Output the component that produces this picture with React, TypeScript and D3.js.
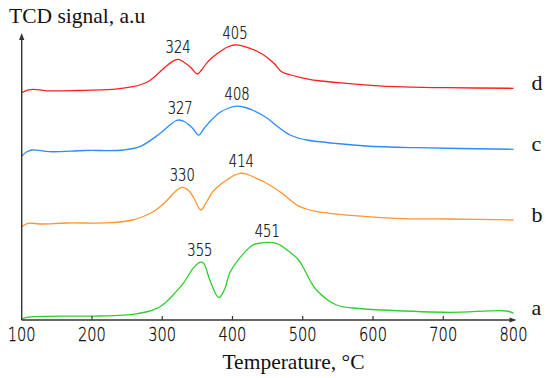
import React from "react";
import * as d3 from "d3";

// ---- data (temperature °C, TCD signal a.u.) ----
const curveD: [number, number][] = [
  [100, 22.73], [108, 22.98], [117, 23.07], [135, 22.92], [180, 22.95], [230, 23.07],
  [258, 23.33], [270, 23.55], [280, 23.85], [292, 24.5], [306, 25.4], [318, 25.98],
  [323, 26.07], [330, 25.83], [340, 25.3], [350, 24.6], [356, 25.0], [363, 25.67],
  [372, 26.3], [382, 26.83], [393, 27.3], [403, 27.5], [414, 27.42], [425, 27.17],
  [437, 26.8], [448, 26.33], [460, 25.6], [470, 24.83], [483, 24.5], [496, 24.27],
  [520, 23.95], [562, 23.67], [633, 23.33], [704, 23.23], [800, 23.17],
];
const curveC: [number, number][] = [
  [100, 16.4], [108, 16.85], [116, 17.0], [140, 16.83], [190, 16.95], [245, 17.0],
  [268, 17.33], [294, 18.5], [311, 19.5], [320, 19.95], [324, 20.0], [332, 19.83],
  [343, 19.2], [352, 18.5], [360, 19.2], [370, 20.0], [383, 20.8], [395, 21.2],
  [406, 21.38], [418, 21.25], [430, 20.95], [448, 20.25], [467, 19.2], [482, 18.5],
  [496, 18.15], [505, 18.0], [548, 17.65], [590, 17.4], [662, 17.23], [800, 17.07],
];
const curveB: [number, number][] = [
  [100, 9.33], [109, 9.67], [126, 9.6], [164, 9.7], [226, 9.73], [258, 10.0],
  [278, 10.5], [287, 10.83], [297, 11.33], [306, 11.9], [316, 12.67], [324, 13.15],
  [329, 13.27], [337, 13.0], [345, 12.2], [355, 11.0], [363, 11.8], [372, 12.83],
  [382, 13.5], [392, 14.0], [402, 14.45], [411, 14.67], [422, 14.55], [434, 14.17],
  [446, 13.78], [458, 13.27], [472, 12.6], [484, 11.9], [496, 11.33],
  [505, 11.1], [520, 10.83], [538, 10.67], [633, 10.17], [709, 10.1], [800, 10.0],
];
const curveA: [number, number][] = [
  [100, 0.07], [107, 0.27], [211, 0.4], [258, 0.57], [280, 0.85], [290, 1.1],
  [297, 1.33], [306, 1.83], [318, 2.7], [330, 3.67], [344, 5.17], [353.5, 5.77],
  [359, 5.67], [367.7, 4.0], [380.5, 2.23], [389, 3.1], [396, 4.7], [410, 6.17],
  [429, 7.5], [443.5, 7.73], [462.6, 7.67], [481.5, 6.8], [493, 6.1], [502, 5.1],
  [510, 4.0], [519.5, 3.0], [548, 1.5], [580, 1.15], [614, 1.0], [709, 0.77],
  [790, 0.9], [800, 0.67],
];

const peaksD = [324, 405];
const peaksC = [327, 408];
const peaksB = [330, 414];
const peaksA = [355, 451];

const seriesNames = ["d", "c", "b", "a"];
const seriesColors = ["#ff1f1f", "#2e8bff", "#ff9430", "#2fcf2f"];
const seriesData = [curveD, curveC, curveB, curveA];
const seriesPeaks = [peaksD, peaksC, peaksB, peaksA];

const xTicks = [100, 200, 300, 400, 500, 600, 700, 800];
const yTitle = "TCD signal, a.u";
const xTitle = "Temperature, °C";

const W = 550;
const H = 378;

const narrow = "'DejaVu Sans', sans-serif";
const serif = "'Liberation Serif', 'Times New Roman', serif";

function NarrowText(props: { x: number; y: number; size: number; sx: number; children: React.ReactNode }) {
  return (
    <text
      transform={`translate(${props.x},${props.y}) scale(${props.sx},1)`}
      textAnchor="middle"
      fontFamily={narrow}
      fontWeight={200}
      fontSize={props.size}
      fill="#000"
      stroke="#000"
      strokeWidth={0.25}
    >
      {props.children}
    </text>
  );
}

export default function App() {
  const x = d3.scaleLinear().domain([100, 800]).range([21.7, 513.5]);
  const y = d3.scaleLinear().domain([0, 28.6]).range([320, 34]);
  const line = d3
    .line<[number, number]>()
    .x((d) => x(d[0]))
    .y((d) => y(d[1]))
    .curve(d3.curveCatmullRom.alpha(0.5));

  const axisColor = "#333";
  const x0 = x(100);
  const y0 = y(0);
  const xEnd = x(800) + 3;
  const yTop = y(28.6) - 1;

  return (
    <svg
      width={W}
      height={H}
      viewBox={`0 0 ${W} ${H}`}
      style={{ position: "fixed", left: 0, top: 0, background: "#fff" }}
    >
      <rect x={0} y={0} width={W} height={H} fill="#fff" />
      {seriesData.map((data, i) => (
        <path
          key={seriesNames[i]}
          d={line(data) || ""}
          fill="none"
          stroke={seriesColors[i]}
          strokeWidth={1.3}
        />
      ))}
      {seriesPeaks.map((peaks, i) =>
        peaks.map((t) => {
          const near = seriesData[i].filter((d) => Math.abs(d[0] - t) <= 15);
          const top = d3.max(near, (d) => d[1]) ?? 0;
          return (
            <NarrowText key={`${seriesNames[i]}-${t}`} x={x(t) - 1} y={y(top) - 6} size={17.8} sx={0.74}>
              {t}
            </NarrowText>
          );
        })
      )}
      {seriesData.map((data, i) => (
        <text
          key={`n-${seriesNames[i]}`}
          x={x(800) + 18}
          y={y(data[data.length - 1][1]) + 2}
          fontFamily={serif}
          fontSize={22}
          fill="#111"
        >
          {seriesNames[i]}
        </text>
      ))}
      <line x1={x0} y1={y0} x2={xEnd - 5} y2={y0} stroke={axisColor} strokeWidth={1.4} />
      <path d={`M${xEnd},${y0} L${xEnd - 7},${y0 - 2.6} L${xEnd - 7},${y0 + 2.6} Z`} fill={axisColor} />
      <line x1={x0} y1={y0} x2={x0} y2={yTop + 5} stroke={axisColor} strokeWidth={1.4} />
      <path d={`M${x0},${yTop} L${x0 - 2.6},${yTop + 7} L${x0 + 2.6},${yTop + 7} Z`} fill={axisColor} />
      {xTicks.map((t) => (
        <g key={t}>
          {t > 100 && t < 800 && (
            <line x1={x(t)} y1={y0} x2={x(t)} y2={y0 - 4} stroke={axisColor} strokeWidth={1.2} />
          )}
          <NarrowText x={x(t)} y={340.5} size={19.2} sx={0.76}>
            {t}
          </NarrowText>
        </g>
      ))}
      <text x={293.5} y={369} textAnchor="middle" fontFamily={serif} fontSize={21.5} fill="#111">
        {xTitle}
      </text>
      <text x={9} y={23} fontFamily={serif} fontSize={21.5} fill="#111">
        {yTitle}
      </text>
    </svg>
  );
}
